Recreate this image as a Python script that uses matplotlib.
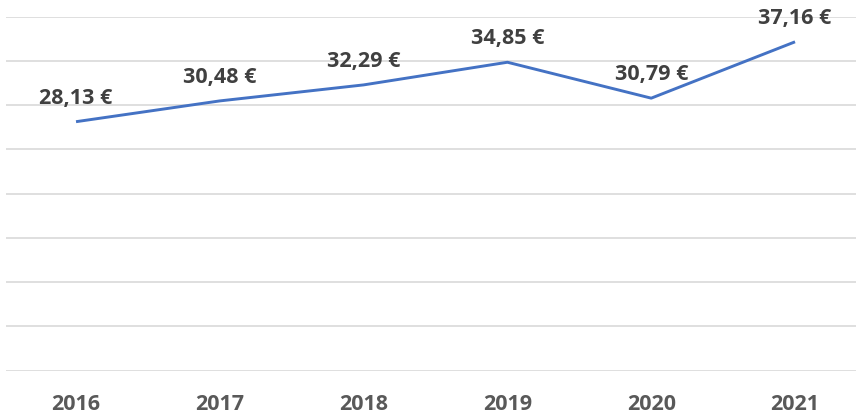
import matplotlib
matplotlib.use("Agg")
import matplotlib.pyplot as plt

years = ["2016", "2017", "2018", "2019", "2020", "2021"]
prices = [28.13, 30.48, 32.29, 34.85, 30.79, 37.16]

plt.rcParams["font.family"] = ["Open Sans", "DejaVu Sans"]

fig = plt.figure(figsize=(8.58, 4.14), dpi=100)
ax = fig.add_axes([6 / 858, 42.5 / 414, 850 / 858, (371.5 - 17.7) / 414])

x = list(range(len(years)))
ax.plot(x, prices, color="#4472C4", lw=2.1, solid_capstyle="butt")

for xi, v in zip(x, prices):
    ax.annotate(f"{v:.2f}".replace(".", ",") + " €", (xi, v),
                xytext=(0, 17.5), textcoords="offset points",
                ha="center", va="center", fontsize=15.5, fontweight="bold",
                color="#404040")

ax.set_ylim(0, 40)
ax.set_xlim(-0.487, 5.424)
ax.set_yticks(range(0, 41, 5))
ax.set_yticklabels([])
ax.set_xticks(x)
ax.set_xticklabels(years, fontsize=15.5, fontweight="bold", color="#595959")
ax.tick_params(axis="both", length=0)
ax.tick_params(axis="x", pad=16.5)
ax.grid(axis="y", color="#d9d9d9", lw=1.2)
ax.set_axisbelow(True)
for s in ax.spines.values():
    s.set_visible(False)

fig.savefig("out.png", dpi=100)
